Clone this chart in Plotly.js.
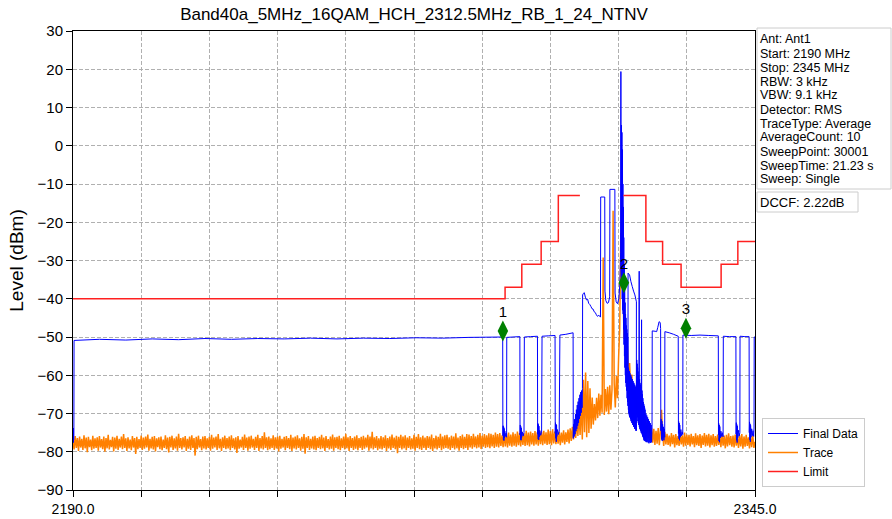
<!DOCTYPE html>
<html><head><meta charset="utf-8">
<script src="https://cdn.plot.ly/plotly-3.0.1.min.js"></script>
<style>html,body{margin:0;padding:0;background:#fff}#chart{width:892px;height:519px}</style>
</head><body><div id="chart"></div>
<script>
// ---------------- DATA ----------------
const chartTitle = 'Band40a_5MHz_16QAM_HCH_2312.5MHz_RB_1_24_NTNV';
const yTitle = 'Level (dBm)';

// "Trace" (orange): sweep starting at 2190 MHz, one reading every 0.25 MHz
const traceStart = 2190;
const traceStep = 0.25;
const traceLevel = [
 -77.1,-79.4, -75.9,-79.0, -76.4,-79.8, -76.0,-78.9, -76.6,-79.5, -75.7,-79.1, -76.3,-80.1, -76.1,-78.8, -76.8,-79.6, -75.8,-79.2,
 -76.5,-79.0, -76.2,-79.7, -75.9,-78.9, -76.7,-79.3, -76.0,-80.0, -76.4,-79.1, -75.6,-79.4, -76.9,-78.8, -76.1,-79.9, -76.3,-79.2,
 -75.8,-79.5, -76.6,-78.9, -76.0,-79.3, -75.4,-79.0, -76.5,-79.8, -76.2,-79.1, -76.8,-79.6, -75.9,-78.9, -76.4,-80.6, -76.1,-79.3,
 -76.7,-79.0, -75.8,-79.5, -76.3,-79.2, -76.0,-78.9, -75.5,-79.7, -76.6,-79.1, -76.1,-79.4, -75.9,-79.9, -76.5,-78.8, -76.2,-79.3,
 -76.0,-79.6, -76.8,-79.0, -75.7,-79.3, -76.3,-80.2, -76.1,-78.9, -75.8,-79.5, -76.5,-79.1, -76.0,-79.7, -75.3,-79.0, -76.4,-79.4,
 -76.2,-78.9, -75.9,-79.8, -76.6,-79.2, -76.0,-79.5, -75.7,-79.0, -76.4,-81.0, -76.1,-79.3, -75.8,-78.9, -76.7,-79.6, -76.0,-79.1,
 -75.9,-79.4, -76.5,-79.0, -76.1,-79.7, -75.6,-79.2, -76.3,-78.9, -76.0,-79.5, -75.4,-79.1, -76.6,-79.8, -76.2,-79.0, -75.8,-79.3,
 -76.4,-79.1, -76.0,-79.6, -75.7,-79.0, -76.5,-79.4, -76.2,-80.3, -75.9,-79.2, -76.8,-78.9, -76.1,-79.5, -75.5,-79.0, -76.3,-79.7,
 -76.0,-79.2, -75.8,-78.9, -76.6,-79.5, -76.1,-79.0, -75.6,-79.8, -76.4,-79.1, -75.9,-79.4, -74.9,-79.0, -76.2,-79.6, -76.0,-79.3,
 -76.5,-79.0, -75.7,-79.5, -76.2,-79.1, -76.0,-79.9, -75.8,-79.2, -76.6,-78.9, -76.1,-79.6, -75.9,-79.0, -76.4,-79.3, -75.6,-79.8,
 -76.3,-79.1, -76.0,-79.4, -75.7,-79.0, -76.5,-79.7, -76.1,-79.2, -75.4,-80.5, -76.2,-79.0, -75.9,-79.5, -76.6,-79.1, -76.0,-79.4,
 -75.8,-79.6, -76.4,-79.0, -76.1,-79.3, -75.6,-79.1, -76.3,-79.8, -75.9,-79.0, -76.7,-79.4, -76.0,-79.2, -75.5,-79.7, -76.2,-79.0,
 -76.1,-79.3, -75.8,-79.6, -76.5,-79.0, -76.0,-79.4, -75.3,-79.1, -76.2,-79.8, -75.9,-79.0, -76.4,-79.5, -76.0,-79.2, -75.7,-79.6,
 -76.4,-79.0, -76.1,-79.5, -75.8,-79.2, -76.3,-78.9, -75.6,-79.7, -76.0,-79.1, -74.8,-79.4, -76.2,-79.0, -75.9,-79.6, -76.5,-79.2,
 -75.9,-79.4, -76.2,-79.0, -75.7,-79.8, -76.4,-79.1, -76.0,-79.5, -75.5,-79.0, -76.3,-79.3, -75.8,-80.4, -76.1,-79.0, -75.6,-79.4,
 -76.0,-79.1, -75.7,-79.6, -76.3,-79.0, -75.9,-79.4, -76.5,-79.2, -75.6,-79.7, -76.1,-79.0, -75.4,-79.3, -76.2,-79.5, -75.8,-79.0,
 -76.3,-79.5, -75.9,-79.0, -76.0,-79.3, -75.5,-79.8, -76.4,-79.1, -75.8,-79.4, -76.1,-79.0, -75.3,-79.6, -76.0,-79.2, -75.7,-79.0,
 -75.6,-79.2, -76.2,-79.5, -75.8,-79.0, -76.0,-79.4, -75.2,-79.1, -76.3,-79.7, -75.9,-79.0, -75.5,-79.3, -76.1,-79.0, -75.4,-79.5,
 -75.5,-78.9, -75.9,-79.2, -75.3,-78.8, -76.0,-79.1, -75.6,-78.9, -75.1,-79.3, -75.8,-78.7, -75.4,-79.0, -75.7,-78.8, -75.2,-79.1,
 -75.3,-78.6, -75.6,-79.0, -75.0,-78.7, -75.4,-78.9, -75.1,-78.5, -75.7,-78.8, -74.9,-78.6, -75.3,-78.9, -75.0,-78.4, -75.5,-78.7,
 -74.9,-78.4, -75.3,-78.7, -74.7,-78.3, -75.1,-78.6, -74.8,-78.2, -75.2,-78.5, -74.5,-78.3, -75.0,-78.6, -74.7,-78.1, -75.1,-78.4,
 -74.6,-78.1, -74.9,-78.4, -74.3,-78.0, -74.8,-78.3, -74.5,-77.9, -74.9,-78.2, -74.2,-78.0, -74.6,-78.3, -74.1,-77.8, -74.7,-78.0,
 -75.2,-77.9, -74.8,-78.3, -75.0,-77.6, -74.4,-78.1, -74.9,-77.4, -74.2,-77.8, -73.9,-77.2, -73.5,-76.8, -72.6,-76.4, -71.5,-75.9,
 -69.8,-75.6, -66.0,-76.8, -61.2,-74.9, -59.3,-76.2, -61.5,-75.1, -63.4,-74.0, -65.8,-72.9, -67.5,-71.8, -65.9,-71.2, -64.8,-70.6,
 -65.1,-69.8, -29.2,-70.4, -63.6,-69.5, -63.0,-70.2, -62.6,-69.0, -63.8,-17.0, -62.1,-68.4, -60.2,-66.0, -55.4,-48.0, -22.8,-30.5,
 -38.0,-50.5, -46.0,-56.2, -52.4,-60.0, -56.8,-63.5, -59.8,-66.2, -62.7,-68.4, -65.0,-70.3, -67.2,-72.0, -69.0,-73.1, -70.5,-74.2,
 -71.6,-75.3, -72.4,-76.5, -73.2,-77.0, -73.9,-77.6, -74.0,-78.2, -74.5,-77.9, -73.8,-78.3, -74.6,-69.0, -75.0,-78.5, -74.8,-78.1,
 -75.3,-78.2, -75.8,-78.6, -75.1,-78.0, -75.6,-78.9, -75.4,-78.3, -75.9,-78.5, -75.2,-78.1, -75.7,-78.7, -75.0,-78.4, -75.5,-78.2,
 -75.6,-78.6, -75.3,-78.1, -75.9,-78.8, -75.2,-78.3, -75.7,-78.5, -75.4,-79.0, -75.8,-78.2, -75.1,-78.6, -75.6,-78.4, -75.3,-78.9,
 -75.7,-78.3, -75.4,-78.7, -75.9,-78.5, -75.5,-78.2, -76.0,-78.8, -75.3,-78.4, -75.8,-79.1, -75.6,-78.6, -75.2,-78.3, -75.9,-78.7,
 -75.8,-78.9, -75.5,-78.4, -76.1,-79.0, -75.7,-78.6, -75.4,-79.2, -76.0,-78.7, -75.6,-78.5, -76.2,-79.1, -75.9,-78.8, -75.7,-79.0,
 -77.4
];

// "Final Data" (blue): frequency (MHz) / level (dBm) readings
const finalFreq = [
 2190.00,2190.04,2190.08,2190.12,2190.16,2190.20,2190.24,
 2196,2202,2208,2214,2220,2226,2232,2238,2244,2250,2256,2262,2268,2274,2280,2287.66,
 2287.70,2287.76,2287.82,2287.88,2287.94,2288.00,2288.06,2288.14,2288.30,2288.45,2288.55,2288.58,
 2290.0,2291.56,
 2291.60,2291.66,2291.72,2291.78,2291.84,2291.90,2291.96,2292.10,2292.30,2292.50,2292.58,
 2294.0,2295.56,
 2295.60,2295.66,2295.72,2295.78,2295.84,2295.90,2295.96,2296.10,2296.30,2296.50,2296.60,
 2298.0,2299.56,
 2299.60,2299.66,2299.72,2299.78,2299.84,2299.90,2299.96,2300.10,2300.30,2300.50,2300.66,
 2302.0,2303.66,
 2303.70,2303.80,2303.90,2304.00,2304.10,2304.20,2304.30,2304.40,2304.50,2304.60,2304.70,2304.80,2304.90,2305.00,2305.10,2305.20,2305.30,2305.40,2305.50,2305.60,2305.70,2305.78,
 2305.82,2306.00,2306.20,2306.45,2306.70,2306.95,2307.20,2307.45,2307.70,2307.95,2308.20,2308.45,2308.70,2308.95,2309.20,2309.50,2309.88,
 2309.93,2310.85,2310.90,2311.10,2311.40,2311.70,2311.97,2312.02,2313.15,2313.20,2313.45,2313.75,2314.05,2314.30,2314.45,
 2314.52,2314.58,2314.64,2314.70,2314.76,2314.82,2314.88,2314.94,2314.98,
 2315.03,2315.08,2315.13,2315.18,2315.23,2315.28,2315.33,2315.38,2315.43,2315.48,2315.53,2315.58,2315.63,2315.68,2315.73,2315.78,2315.83,2315.88,2315.93,2315.98,2316.03,2316.08,2316.12,
 2316.18,2316.23,2316.28,2316.33,2316.38,2316.43,2316.48,2316.53,2316.58,2316.63,2316.68,2316.73,2316.78,2316.83,2316.88,2316.93,2316.98,2317.03,2317.08,2317.13,2317.18,2317.23,2317.28,2317.33,2317.38,2317.43,2317.48,2317.53,2317.58,2317.63,2317.68,2317.73,2317.78,2317.83,2317.88,2317.93,2317.98,2318.03,
 2318.05,2317.70,2317.40,2317.10,2316.80,2316.50,2316.15,2316.13,
 2318.08,2318.13,2318.18,2318.23,2318.28,2318.33,2318.38,2318.43,2318.48,2318.53,2318.58,2318.63,2318.68,2318.72,2318.77,2318.82,2318.87,2318.92,2318.97,2319.02,2319.07,2319.12,2319.17,2319.22,2319.27,2319.32,2319.37,2319.42,2319.47,2319.52,2319.57,2319.62,2319.67,2319.72,2319.77,2319.82,2319.87,2319.92,2319.97,2320.02,
 2320.10,2320.20,2320.30,2320.40,2320.50,2320.60,2320.70,2320.80,2320.90,2321.00,2321.10,2321.20,2321.30,2321.40,2321.50,2321.60,
 2321.64,2322.30,2322.65,2322.90,2323.20,2323.45,2323.55,
 2323.60,2323.68,2323.76,2323.84,2323.92,2324.00,2324.10,2324.20,2324.30,2324.40,2324.48,
 2324.52,2325.50,2326.50,2327.55,
 2327.60,2327.66,2327.72,2327.78,2327.84,2327.90,2328.00,2328.15,2328.30,2328.45,2328.58,
 2328.62,2330.50,2332.50,2334.50,2336.66,
 2336.70,2336.76,2336.82,2336.88,2336.94,2337.00,2337.10,2337.25,2337.40,2337.55,2337.75,
 2337.80,2339.20,2340.66,
 2340.70,2340.76,2340.82,2340.88,2340.94,2341.00,2341.10,2341.25,2341.40,2341.56,
 2341.60,2342.70,2343.66,
 2343.70,2343.76,2343.82,2343.88,2343.94,2344.00,2344.10,2344.25,2344.40,2344.55,2344.70,2344.78,
 2344.82,2345.00
];
const finalLevel = [
 -77.2,-74.0,-77.6,-73.8,-76.9,-74.5,-50.9,
 -50.6,-50.8,-50.5,-50.7,-50.4,-50.6,-50.4,-50.5,-50.3,-50.5,-50.3,-50.4,-50.2,-50.3,-50.1,-50.0,
 -75.8,-73.2,-76.9,-73.5,-77.1,-73.9,-76.4,-74.6,-76.0,-75.1,-76.2,-50.1,
 -50.0,-49.9,
 -75.6,-73.0,-76.8,-73.4,-77.0,-73.8,-76.3,-74.8,-75.9,-75.0,-50.0,
 -49.9,-49.8,
 -75.4,-72.6,-76.7,-72.9,-76.9,-73.3,-76.1,-74.5,-75.7,-74.9,-49.8,
 -49.7,-49.6,
 -75.2,-72.4,-76.5,-72.8,-77.4,-73.0,-76.0,-74.2,-75.5,-74.6,-49.5,
 -49.3,-48.9,
 -76.5,-72.8,-76.0,-71.5,-75.4,-70.2,-74.6,-69.0,-74.0,-67.8,-73.2,-66.9,-72.5,-66.0,-71.4,-65.1,-70.6,-64.4,-69.8,-64.0,-68.5,-63.5,
 -39.0,-38.6,-38.4,-39.6,-40.3,-40.1,-41.2,-41.5,-42.0,-42.6,-42.7,-43.4,-43.6,-44.2,-44.6,-44.3,-44.8,
 -13.4,-13.4,-38.0,-40.5,-41.2,-41.0,-39.5,-11.4,-11.4,-38.5,-40.8,-41.3,-40.0,-36.0,-28.0,
 19.4,-32.0,5.4,-36.0,3.5,-40.0,-1.0,-43.0,-10.0,
 -44,-16,-48,-24,-52,-31,-55,-37,-58,-41,-60,-44,-62,-45,-63,-47,-64,-48,-66,-49,-67,-50,-68,
 -58,-69,-58.5,-70,-59,-70.5,-59,-71,-59.5,-71,-60,-71.5,-60,-72,-60.5,-72,-61,-72.5,-61,-72.5,-61.5,-73,-61.5,-73,-62,-73.5,-62,-73.5,-62.5,-74,-62.5,-74,-63,-74,-63,-74.5,-63.5,-74.5,
 -40.8,-39.0,-38.0,-36.8,-35.5,-33.8,-33.3,-60.0,
 -66,-56,-70,-57,-71,-58,-72,-59,-72.5,-60,-73,-60.5,-32.8,-73.5,-61,-74,-62,-74.2,-62.5,-74.5,-63,-75,-63.5,-45.5,-75.2,-64,-75.5,-65,-76,-66,-76.2,-67,-76.5,-67.5,-77,-68,-77,-68.5,-77.2,-69,
 -77.3,-70,-77.5,-70.5,-77.4,-71,-77.6,-71.5,-77.8,-72,-77.5,-72.5,-77.7,-73,-77.5,-73.5,
 -48.4,-48.5,-48.6,-47.5,-46.0,-46.2,-47.8,
 -74.5,-71.5,-76.8,-72.0,-77.2,-72.8,-76.5,-73.5,-77.0,-74.0,-76.2,
 -48.6,-48.9,-49.3,-49.8,
 -75.2,-72.1,-76.6,-72.5,-77.0,-73.0,-76.2,-74.2,-75.8,-74.8,-75.5,
 -49.5,-49.6,-49.5,-49.6,-49.7,
 -75.6,-72.6,-77.2,-73.0,-77.5,-73.4,-76.4,-74.6,-76.0,-75.0,-76.1,
 -49.8,-49.9,-49.9,
 -75.4,-72.4,-77.0,-72.9,-77.6,-73.3,-76.3,-74.4,-75.9,-75.0,
 -49.8,-49.9,-49.9,
 -75.0,-72.2,-76.9,-72.7,-77.4,-73.1,-76.2,-74.0,-75.8,-74.5,-76.0,-73.8,
 -50.0,-50.0
];

// "Limit" (red): level starting at each frequency (step line), gap around the carrier
const limitFreq  = [2190, 2288.2, 2292.0, 2296.4, 2300.3, 2305.2, 2305.2, 2315.1, 2320.2, 2324.0, 2328.2, 2337.3, 2341.1, 2345];
const limitLevel = [-40,  -37,    -31,    -25,    -13,    -13,    null,   -13,    -25,    -31,    -37,    -31,    -25,    -25];

// Markers
const markerFreq  = [2287.7, 2315.2, 2329.3];
const markerLevel = [-48.4, -35.8, -47.7];
const markerLabel = ['1', '2', '3'];

// Axis ticks
const xTickVals = [2190, 2205.5, 2221, 2236.5, 2252, 2267.5, 2283, 2298.5, 2314, 2329.5, 2345];
const xTickText = ['2190.0', '', '', '', '', '', '', '', '', '', '2345.0'];

// Side info text
const infoLines = ['Ant: Ant1', 'Start: 2190 MHz', 'Stop: 2345 MHz', 'RBW: 3 kHz', 'VBW: 9.1 kHz',
  'Detector: RMS', 'TraceType: Average', 'AverageCount: 10', 'SweepPoint: 30001', 'SweepTime: 21.23 s', 'Sweep: Single'];
const dccfText = 'DCCF: 2.22dB';

// ---------------- LAYOUT ----------------
const W = 892, H = 519, L = 73, R = 755, T = 31, B = 490;
const px2x = p => (p - L) / (R - L);
const px2y = p => (B - p) / (B - T);
const FONT = 'Liberation Sans, Arial, Helvetica, sans-serif';

const traces = [
  {type: 'scatter', mode: 'lines', name: 'Trace', x0: traceStart, dx: traceStep, y: traceLevel,
   line: {color: '#ff8000', width: 1.5, simplify: false}, legendrank: 2},
  {type: 'scatter', mode: 'lines', name: 'Final Data', x: finalFreq, y: finalLevel,
   line: {color: '#0000ff', width: 1, simplify: false}, legendrank: 1},
  {type: 'scatter', mode: 'lines', name: 'Limit', x: limitFreq, y: limitLevel,
   line: {color: '#ff2020', width: 1.5, shape: 'hv'}, connectgaps: false, legendrank: 3},
  {type: 'scatter', mode: 'markers+text', x: markerFreq, y: markerLevel, text: markerLabel,
   textposition: 'top center', textfont: {family: FONT, size: 15, color: '#000'},
   marker: {symbol: 'diamond-tall', size: 15, color: '#008000'}, showlegend: false, hoverinfo: 'skip'}
];

const annotations = infoLines.map((t, i) => ({
  xref: 'paper', yref: 'paper', x: px2x(759), y: px2y(39.5 + 14.0 * i),
  xanchor: 'left', yanchor: 'middle', text: t, showarrow: false, borderpad: 0,
  font: {family: FONT, size: 12.5, color: '#000'}
}));
annotations.push({
  xref: 'paper', yref: 'paper', x: px2x(759), y: px2y(202),
  xanchor: 'left', yanchor: 'middle', text: dccfText, showarrow: false, borderpad: 0,
  font: {family: FONT, size: 13, color: '#000'}
});

const shapes = [
  {type: 'rect', xref: 'paper', yref: 'paper', x0: px2x(757), x1: px2x(891), y0: px2y(189), y1: px2y(28),
   line: {color: '#cccccc', width: 1}, fillcolor: 'rgba(0,0,0,0)'},
  {type: 'rect', xref: 'paper', yref: 'paper', x0: px2x(757), x1: px2x(858), y0: px2y(212), y1: px2y(192),
   line: {color: '#cccccc', width: 1}, fillcolor: 'rgba(0,0,0,0)'}
];

const layout = {
  width: W, height: H,
  margin: {l: L, r: W - R, t: T, b: H - B, pad: 0},
  paper_bgcolor: '#fff', plot_bgcolor: '#fff',
  font: {family: FONT, size: 14, color: '#000'},
  title: {text: chartTitle, font: {family: FONT, size: 17, color: '#000'},
          xref: 'paper', x: 0.5, xanchor: 'center', yref: 'container', y: 1 - 14.5 / H, yanchor: 'middle'},
  xaxis: {range: [2190, 2345], tickmode: 'array', tickvals: xTickVals, ticktext: xTickText,
          ticks: 'outside', ticklen: 6, tickcolor: '#000', tickwidth: 1,
          showline: true, linecolor: '#000', linewidth: 1, mirror: true,
          showgrid: true, gridcolor: '#b0b0b0', griddash: '4px,2px', gridwidth: 1,
          zeroline: false, tickfont: {family: FONT, size: 14, color: '#000'}},
  yaxis: {range: [-90, 30], tickmode: 'linear', tick0: -90, dtick: 10,
          ticks: 'outside', ticklen: 6, tickcolor: '#000', tickwidth: 1,
          showline: true, linecolor: '#000', linewidth: 1, mirror: true,
          showgrid: true, gridcolor: '#b0b0b0', griddash: '4px,2px', gridwidth: 1,
          zeroline: false, tickfont: {family: FONT, size: 15, color: '#000'},
          title: {text: yTitle, font: {family: FONT, size: 19, color: '#000'}, standoff: 8}},
  showlegend: true,
  legend: {x: px2x(762), xanchor: 'left', y: px2y(487), yanchor: 'bottom',
           bgcolor: '#fff', bordercolor: '#cccccc', borderwidth: 1,
           font: {family: FONT, size: 12, color: '#000'}, tracegroupgap: 0, itemwidth: 30},
  annotations: annotations,
  shapes: shapes
};

Plotly.newPlot('chart', traces, layout, {displayModeBar: false, staticPlot: true});
</script>
</body></html>
